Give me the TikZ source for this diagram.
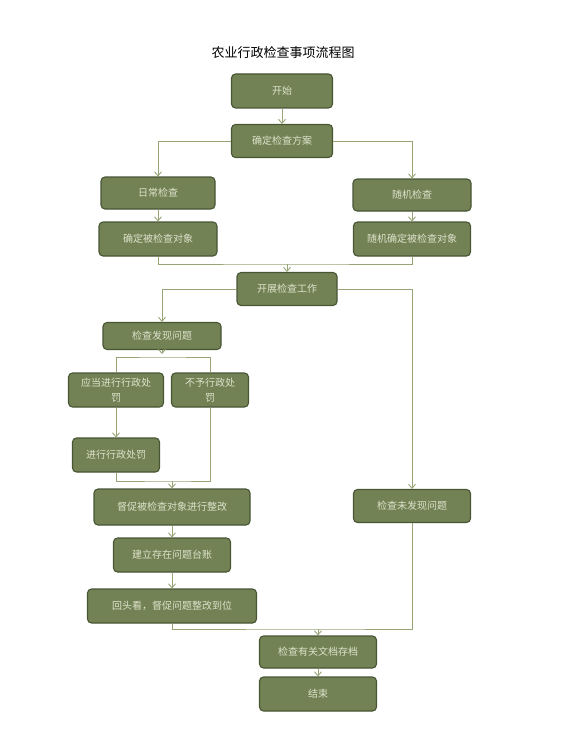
\documentclass[tikz,border=0pt]{standalone}
\usepackage{fontspec}
\setmainfont{Noto Sans CJK SC}
\usepackage{tikz}
\usetikzlibrary{positioning,arrows.meta,calc}
\definecolor{boxFill}{RGB}{114,130,84}
\definecolor{boxLine}{RGB}{72,86,52}
\definecolor{boxText}{RGB}{222,226,204}
\definecolor{linkCol}{RGB}{150,164,118}

\begin{document}
\begin{tikzpicture}[
  x=1pt, y=-1pt,
  box/.style={
    draw=boxLine, fill=boxFill, line width=1.1pt, rounded corners=4pt,
    minimum height=34pt, inner sep=2pt, align=center,
    text=boxText, font=\fontsize{10}{15}\selectfont
  },
  link/.style={draw=linkCol, line width=0.9pt},
  arr/.style={link,-{Straight Barb[length=4pt,width=7pt]}}
]
\useasboundingbox (0,0) rectangle (571,749);

\node[font=\fontsize{13}{15}\selectfont] (title) at (283,53) {农业行政检查事项流程图};

\node[box, minimum width=101pt] (start)  at (282,91)  {开始};
\node[box, minimum width=101pt, minimum height=33pt] (plan) at (282,141) {确定检查方案};
\node[box, minimum width=114pt, minimum height=32pt] (daily)  at (158,193) {日常检查};
\node[box, minimum width=118pt, minimum height=32pt] (random) at (412,195) {随机检查};
\node[box, minimum width=118pt] (objA)   at (158,239) {确定被检查对象};
\node[box, minimum width=117pt] (objB)   at (412,239) {随机确定被检查对象};
\node[box, minimum width=100pt, minimum height=33pt] (work) at (287,289) {开展检查工作};
\node[box, minimum width=118pt, minimum height=27pt] (found) at (162,336) {检查发现问题};
\node[box, minimum width=95pt]  (punish)   at (116,390) {应当进行行政处\\罚};
\node[box, minimum width=77pt]  (nopunish) at (210,390) {不予行政处\\罚};
\node[box, minimum width=87pt]  (dopunish) at (116,455) {进行行政处罚};
\node[box, minimum width=156pt, minimum height=36pt] (rectify) at (172,507) {督促被检查对象进行整改};
\node[box, minimum width=117pt] (ledger)   at (172,555) {建立存在问题台账};
\node[box, minimum width=169pt] (review)   at (172,606) {回头看，督促问题整改到位};
\node[box, minimum width=117pt, minimum height=33pt] (notfound) at (412,506) {检查未发现问题};
\node[box, minimum width=117pt, minimum height=32pt] (archive)  at (318,652) {检查有关文档存档};
\node[box, minimum width=117pt] (finish)   at (318,694) {结束};

% junction points
\coordinate (mA) at (287,264);
\coordinate (mB) at (162,357);
\coordinate (mC) at (172,481);
\coordinate (mD) at (318,629);

\draw[arr] (start) -- (plan);
\draw[arr] (plan.west) -| (daily.north);
\draw[arr] (plan.east) -| (random.north);
\draw[arr] (daily) -- (objA);
\draw[arr] (random) -- (objB);

\draw[link] (objA.south) |- (mA) -| (objB.south);
\draw[arr] (mA) -- (work.north);

\draw[arr] (work.west) -| (found.north);
\draw[arr] (work.east) -| (notfound.north);

\draw[link] (punish.north) |- (mB) -| (nopunish.north);
\draw[arr] (found.south) -- ([yshift=3pt]mB);
\draw[arr] (punish) -- (dopunish);

\draw[link] (dopunish.south) |- (mC) -| (nopunish.south);
\draw[arr] (mC) -- (rectify.north);
\draw[arr] (rectify) -- (ledger);
\draw[arr] (ledger) -- (review);

\draw[link] (review.south) |- (mD) -| (notfound.south);
\draw[arr] (mD) -- (archive.north);
\draw[arr] (archive) -- (finish);

\end{tikzpicture}
\end{document}
